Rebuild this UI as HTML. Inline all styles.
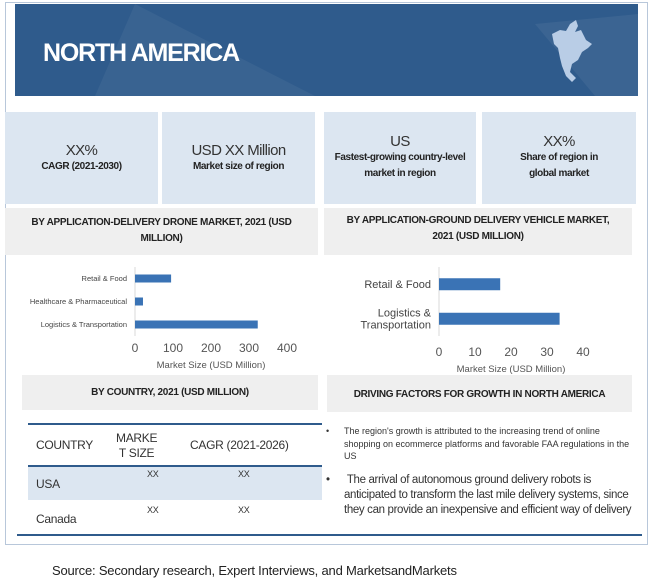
<!DOCTYPE html>
<html><head><meta charset="utf-8"><style>
*{margin:0;padding:0;box-sizing:border-box}
body{width:650px;height:586px;background:#fff;position:relative;overflow:hidden;font-family:"Liberation Sans",sans-serif;color:#222}
.a{position:absolute}
.kpi{position:absolute;top:112px;height:92px;background:#dce6f1;text-align:center;white-space:nowrap}
.kb{font-size:15px;color:#333;letter-spacing:-0.6px}
.ks{font-size:10px;font-weight:bold;color:#222;line-height:16px;letter-spacing:-0.4px}
.hd{position:absolute;background:#efefef;text-align:center;font-weight:bold;font-size:10px;color:#222;line-height:16px;letter-spacing:-0.3px;white-space:nowrap}
</style></head><body>
<div class="a" style="left:5px;top:2px;width:643px;height:543px;border:1px solid #b8c7da"></div>
<div class="a" style="left:15px;top:4px;width:623px;height:92px;background:#2f5b8c;overflow:hidden">
<svg width="623" height="92" style="position:absolute;left:0;top:0"><polygon points="120,0 300,92 80,92" fill="#ffffff" opacity="0.05"/><polygon points="520,20 623,10 623,92 580,92" fill="#ffffff" opacity="0.06"/></svg>
<div class="a" style="left:28px;top:35px;font-size:25px;font-weight:bold;color:#fff;letter-spacing:-1.2px">NORTH AMERICA</div>
<svg class="a" style="left:533px;top:14px" width="52" height="68"><polygon points="4,16 12,12 18,13 22,6 28,2 30,8 27,14 33,12 38,22 44,26 40,30 34,34 30,42 24,46 22,54 28,60 24,64 18,58 14,48 12,40 10,30 6,26" fill="#b9cde6"/></svg>
</div>
<div class="kpi" style="left:5px;width:153px"><div class="kb" style="margin-top:30px">XX%</div><div class="ks">CAGR (2021-2030)</div></div>
<div class="kpi" style="left:162px;width:153px"><div class="kb" style="margin-top:30px">USD XX Million</div><div class="ks">Market size of region</div></div>
<div class="kpi" style="left:324px;width:152px"><div class="kb" style="margin-top:21px">US</div><div class="ks">Fastest-growing country-level<br>market in region</div></div>
<div class="kpi" style="left:482px;width:154px"><div class="kb" style="margin-top:21px">XX%</div><div class="ks">Share of region in<br>global market</div></div>
<div class="hd" style="left:5px;top:208px;width:313px;height:47px;padding-top:7px">BY APPLICATION-DELIVERY DRONE MARKET, 2021 (USD<br>MILLION)</div>
<div class="hd" style="left:324px;top:208px;width:308px;height:47px;padding-top:5px">BY APPLICATION-GROUND DELIVERY VEHICLE MARKET,<br>2021 (USD MILLION)</div>
<svg class="a" id="charts" style="left:0;top:0" width="650" height="586"></svg>
<div class="hd" style="left:22px;top:375px;width:296px;height:35px;padding-top:10px">BY COUNTRY, 2021 (USD MILLION)</div>
<div class="hd" style="left:327px;top:375px;width:305px;height:37px;padding-top:12px">DRIVING FACTORS FOR GROWTH IN NORTH AMERICA</div>
<div class="a" style="left:28px;top:423px;width:294px;height:112px;border-top:2px solid #2f5b8c;font-size:12px;color:#333;letter-spacing:-0.3px">
<div class="a" style="left:0;top:40px;width:294px;height:35px;background:#dce6f1;border-top:2px solid #2f5b8c"></div>
<div class="a" style="left:8px;top:13px">COUNTRY</div>
<div class="a" style="left:88px;top:6px;line-height:15px;text-align:center">MARKE<br>T SIZE</div>
<div class="a" style="left:162px;top:13px">CAGR (2021-2026)</div>
<div class="a" style="left:8px;top:52px">USA</div>
<div class="a" style="left:119px;top:44px;font-size:9px">XX</div><div class="a" style="left:210px;top:44px;font-size:9px">XX</div>
<div class="a" style="left:8px;top:87px">Canada</div>
<div class="a" style="left:119px;top:80px;font-size:9px">XX</div><div class="a" style="left:210px;top:80px;font-size:9px">XX</div>
</div>
<div class="a" style="left:17px;top:534px;width:625px;height:2px;background:#2f5b8c"></div>
<div class="a" style="left:326px;top:425px;width:312px;font-size:9px;line-height:12.5px;color:#333"><span class="a" style="left:0">•</span><div style="margin-left:18px">The region's growth is attributed to the increasing trend of online shopping on ecommerce platforms and favorable FAA regulations in the US</div></div>
<div class="a" style="left:326px;top:473px;width:318px;font-size:11.5px;line-height:15px;color:#333;letter-spacing:-0.35px"><span class="a" style="left:0">•</span><div style="margin-left:18px">&nbsp;The arrival of autonomous ground delivery robots is anticipated to transform the last mile delivery systems, since they can provide an inexpensive and efficient way of delivery</div></div>
<div class="a" style="left:52px;top:563px;font-size:13px;color:#222;letter-spacing:-0.2px">Source: Secondary research, Expert Interviews, and MarketsandMarkets</div>
<script>
const droneCats=["Retail & Food","Healthcare & Pharmaceutical","Logistics & Transportation"];
const droneVals=[95,21,323];
const droneTicks=[0,100,200,300,400];
const groundCats=["Retail & Food","Logistics & Transportation"];
const groundVals=[17,33.5];
const groundTicks=[0,10,20,30,40];
const NS="http://www.w3.org/2000/svg",svg=document.getElementById('charts');
function mk(t,a,txt){const e=document.createElementNS(NS,t);for(const k in a)e.setAttribute(k,a[k]);if(txt!=null)e.textContent=txt;svg.appendChild(e);return e;}
function chart(cats,vals,ticks,o){
 const x=v=>o.x0+(v-ticks[0])/(ticks[ticks.length-1]-ticks[0])*o.w;
 let ax=mk('line',{x1:o.x0,x2:o.x0,y1:o.yt,y2:o.yb,stroke:'#d9d9d9'});
 
 const band=(o.yb-o.yt)/cats.length;
 cats.forEach((c,i)=>{const cy=o.yt+band*(i+0.5);
  let r=mk('rect',{x:o.x0,y:cy-o.bh/2,width:x(vals[i])-o.x0,height:o.bh,fill:'#3a73b5'});
  
  const lines=o.wrap&&c.indexOf(' & ')>0&&c.length>14?[c.split(' ').slice(0,2).join(' '),c.split(' ').slice(2).join(' ')]:[c];
  lines.forEach((l,j)=>{let t=mk('text',{x:o.x0-8,y:cy+o.fs/3+(j-(lines.length-1)/2)*o.fs*1.1,'text-anchor':'end','font-size':o.fs,fill:'#444','letter-spacing':o.ls},l);
   });
 });
 ticks.forEach(v=>{let t=mk('text',{x:x(v),y:o.ty,'text-anchor':'middle','font-size':12,fill:'#555'},v);
  });
 let tt=mk('text',{x:o.x0+o.w/2,y:o.ty+16,'text-anchor':'middle','font-size':9.5,fill:'#555'},'Market Size (USD Million)');
 
}
chart(droneCats,droneVals,droneTicks,{n:'drone',x0:135,w:152,yt:267,yb:336,bh:8,fs:7.5,ls:0,ty:352,wrap:false});
chart(groundCats,groundVals,groundTicks,{n:'ground',x0:439,w:144,yt:267,yb:336,bh:12,fs:11,ls:0,ty:356,wrap:true});
</script>
</body></html>
